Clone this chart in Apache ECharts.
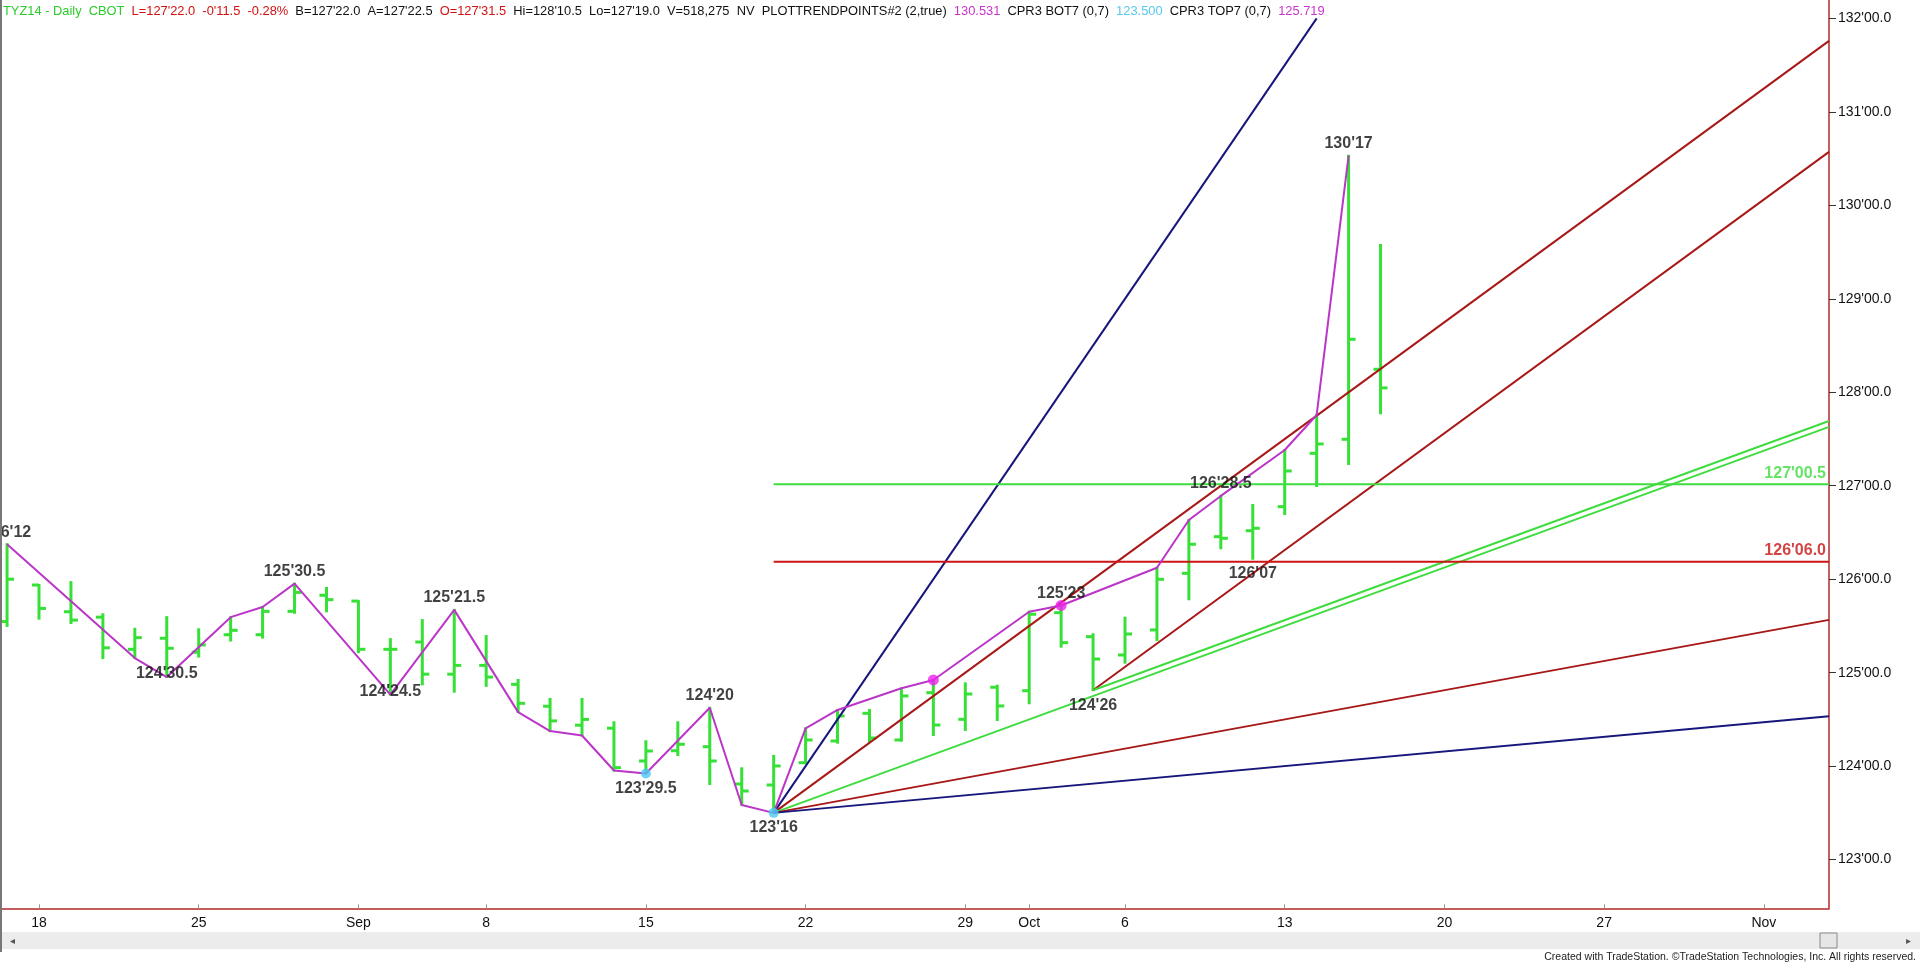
<!DOCTYPE html>
<html><head><meta charset="utf-8">
<script src="https://cdn.jsdelivr.net/npm/echarts@6/dist/echarts.min.js"></script>
<style>html,body{margin:0;padding:0;background:#fff;overflow:hidden}#c{width:1920px;height:964px}</style>
</head><body><div id="c"></div>
<script>
// ---------------- DATA ----------------
// trading-day index 0 = Fri 15 Aug 2014
const barOpen  = [125.547,125.938,125.652,125.594,125.25,125.368,125.219,125.406,125.406,125.656,125.828,125.766,125.25,125.328,124.984,125.078,124.875,124.641,124.438,124.406,124.055,124.165,124.208,123.809,123.798,124.037,124.269,124.565,124.28,124.786,124.501,124.844,124.807,125.642,125.385,125.189,125.457,126.063,126.455,126.519,126.776,127.347,127.497,128.246];
const barHigh  = [126.375,125.938,125.969,125.625,125.469,125.594,125.464,125.594,125.703,125.953,125.906,125.766,125.359,125.5625,125.672,125.391,124.922,124.719,124.719,124.469,124.266,124.469,124.625,123.977,124.109,124.405,124.601,124.601,124.833,124.922,124.886,124.861,125.652,125.719,125.411,125.588,126.123,126.634,126.891,126.794,127.382,127.757,130.531,129.576];
const barLow   = [125.5,125.578,125.531,125.156,125.156,124.953,125.172,125.344,125.375,125.641,125.656,125.219,124.766,124.875,124.797,124.859,124.578,124.375,124.328,123.953,123.922,124.119,123.809,123.584,123.5,124.031,124.251,124.262,124.273,124.333,124.387,124.494,124.673,125.278,124.8125,125.107,125.35,125.785,126.331,126.219,126.698,126.997,127.233,127.775];
const barClose = [126.0,125.6875,125.5625,125.266,125.375,125.261,125.297,125.453,125.656,125.859,125.781,125.25,125.25,124.984,125.078,124.953,124.672,124.484,124.5,123.984,124.162,124.234,124.055,123.734,124.002,124.28,124.537,124.301,124.751,124.44,124.772,124.644,125.625,125.321,125.146,125.414,125.999,126.374,126.438,126.545,127.158,127.447,128.567,128.047];

const xTickIdx    = [1,6,11,15,20,25,30,32,35,40,45,50,55];
const xTickLabels = ['18','25','Sep','8','15','22','29','Oct','6','13','20','27','Nov'];
const yTicks      = [123,124,125,126,127,128,129,130,131,132];

// swing (trend point) line
const zzIdx   = [0,4,5,7,8,9,12,14,16,17,18,19,20,22,23,24,25,26,28,29,32,33,36,37,38,40,41,42];
const zzPrice = [126.375,125.156,124.953,125.594,125.703,125.953,124.766,125.672,124.578,124.375,124.328,123.953,123.922,124.625,123.584,123.5,124.405,124.601,124.833,124.922,125.652,125.719,126.123,126.634,126.891,127.382,127.757,130.531];

const magentaDotIdx = [29,33];
const magentaDotPrice = [124.922,125.719];
const cyanDotIdx = [20,24];
const cyanDotPrice = [123.922,123.5];

// pivot annotations
const annotIdx   = [0,5,9,12,14,20,22,24,33,34,38,39,42];
const annotPrice = [126.375,124.953,125.953,124.766,125.672,123.922,124.625,123.5,125.719,124.8125,126.891,126.219,130.531];
const annotText  = ["126'12","124'30.5","125'30.5","124'24.5","125'21.5","123'29.5","124'20","123'16","125'23","124'26","126'28.5","126'07","130'17"];
const annotSide  = ['above','below','above','below','above','below','above','below','above','below','above','below','above'];

// fan / trend lines
const fanFrom = [[24,123.5],[24,123.5],[24,123.5],[24,123.5],[24,123.5],[34,124.8125],[34,124.8125]];
const fanTo   = [[41,132.0],[57.04,131.76],[57.04,127.63],[57.04,125.565],[57.04,124.5325],[57.04,130.5725],[57.04,127.6925]];
const fanKind = ['blue','red','green','red','blue','red','green'];

// horizontal levels
const hLevel = [127.015625, 126.1875];
const hText  = ["127'00.5", "126'06.0"];
const hKind  = ['green','red'];
const hStartIdx = 24;

const lastPrice = 128.046875;
const lastPriceText = "128'01.5";

const headerText  = ["TYZ14 - Daily  CBOT","L=127'22.0","-0'11.5","-0.28%","B=127'22.0","A=127'22.5","O=127'31.5","Hi=128'10.5","Lo=127'19.0","V=518,275","NV","PLOTTRENDPOINTS#2 (2,true)","130.531","CPR3 BOT7 (0,7)","123.500","CPR3 TOP7 (0,7)","125.719"];
const headerColor = ['g','r','r','r','k','k','r','k','k','k','k','k','m','k','c','k','m'];

// ---------------- STYLE ----------------
const X_MIN = -0.221, X_MAX = 57.04, Y_MIN = 122.479, Y_MAX = 132.197;
const C = {blue:'#16167c', red:'#a81818', green:'#3fdc3f', bar:'#36e036', zz:'#bb35c8', g:'#2ccc2c', r:'#d41010', k:'#111', m:'#cc33cc', c:'#55c8ee'};
const FONT = "'Liberation Sans', Arial, sans-serif";
const HEADER_WIDTH = 1322;

const chart = echarts.init(document.getElementById('c'), null, {renderer:'canvas'});

const ohlcData = barOpen.map((o,i)=>[i,o,barHigh[i],barLow[i],barClose[i]]);

function renderOHLC(params, api){
  const x = api.value(0);
  const o = api.coord([x, api.value(1)]);
  const h = api.coord([x, api.value(2)]);
  const l = api.coord([x, api.value(3)]);
  const c = api.coord([x, api.value(4)]);
  const st = {stroke:C.bar, lineWidth:3, lineCap:'butt'};
  return {type:'group', children:[
    {type:'line', shape:{x1:h[0],y1:h[1]-1,x2:l[0],y2:l[1]+1}, style:st},
    {type:'line', shape:{x1:o[0]-7,y1:o[1],x2:o[0],y2:o[1]}, style:st},
    {type:'line', shape:{x1:c[0],y1:c[1],x2:c[0]+7,y2:c[1]}, style:st}
  ]};
}

const series = [];
series.push({type:'custom', renderItem:renderOHLC, data:ohlcData, encode:{x:0,y:[1,2,3,4]}, z:2, silent:true});

fanFrom.forEach((f,i)=>{
  series.push({type:'line', data:[f, fanTo[i]], showSymbol:false, symbol:'none', z:3, silent:true,
    lineStyle:{color:C[fanKind[i]], width:2}});
});

hLevel.forEach((v,i)=>{
  series.push({type:'line', data:[[hStartIdx,v],[X_MAX,v]], symbol:'none', z:3, silent:true,
    lineStyle:{color: hKind[i]==='green' ? C.green : '#cc1414', width:2}});
  series.push({type:'scatter', data:[[X_MAX,v]], symbolSize:0, z:6, silent:true,
    label:{show:true, position:'left', distance:0, offset:[-3,-11], formatter:hText[i],
      color: hKind[i]==='green' ? '#3ddc3d' : '#c81414', fontWeight:'bold', fontSize:16, fontFamily:FONT}});
});

series.push({type:'line', data:zzIdx.map((x,i)=>[x,zzPrice[i]]), symbol:'none', z:4, silent:true,
  lineStyle:{color:C.zz, width:2},
  markLine:{silent:true, symbol:'none', animation:false, data:[{yAxis:lastPrice}],
    lineStyle:{opacity:0},
    label:{show:true, position:'end', distance:0, formatter:lastPriceText, backgroundColor:'#22ec22', color:'#fff',
      fontSize:14, fontFamily:FONT, padding:[2,29,1,7]}}
});

series.push({type:'scatter', data:magentaDotIdx.map((x,i)=>[x,magentaDotPrice[i]]), symbolSize:11, z:5, silent:true,
  itemStyle:{color:'#ee22ee'}});
series.push({type:'scatter', data:cyanDotIdx.map((x,i)=>[x,cyanDotPrice[i]]), symbolSize:10, z:5, silent:true,
  itemStyle:{color:'#4cc8f4'}});

const belowNudge = {5:-18, 12:-18};
series.push({type:'scatter', symbolSize:0, z:6, silent:true,
  data: annotIdx.map((x,i)=>({value:[x,annotPrice[i]],
    label:{position: annotSide[i]==='above' ? 'top' : 'bottom', distance: annotSide[i]==='above' ? 4 : 7,
      offset:[0, belowNudge[x] || 0], formatter: annotText[i]}})),
  label:{show:true, color:'#111', fontWeight:'bold', fontSize:16, fontFamily:FONT}
});

// header as one flowing rich text, font size fitted to the reference's header width
const SEP = '  ';
const plainHeader = headerText.join(SEP);
const mctx = document.createElement('canvas').getContext('2d');
mctx.font = "12px " + FONT;
const hdrSize = Math.max(11, Math.min(13.5, 12 * HEADER_WIDTH / mctx.measureText(plainHeader).width));
const richHeader = headerText.map((t,i)=>'{'+headerColor[i]+'|'+t+'}').join(SEP);
const rich = {};
['g','r','k','m','c'].forEach(k=>{ rich[k] = {fill:C[k], fontSize:hdrSize, fontFamily:FONT}; });

const graphics = [
  {type:'line', shape:{x1:1,y1:0,x2:1,y2:952}, style:{stroke:'#777', lineWidth:2}, z:100},
  {type:'rect', shape:{x:2,y:932,width:1918,height:17}, style:{fill:'#ececec'}, z:100},
  {type:'rect', shape:{x:1820,y:933,width:17,height:15}, style:{fill:'#e6e6e6', stroke:'#8a8a8a', lineWidth:1}, z:101},
  {type:'text', x:10, y:941, style:{text:'◂', fill:'#555', fontSize:10, verticalAlign:'middle'}, z:101},
  {type:'text', x:1906, y:941, style:{text:'▸', fill:'#555', fontSize:10, verticalAlign:'middle'}, z:101},
  {type:'text', right:4, y:952, style:{text:'Created with TradeStation. ©TradeStation Technologies, Inc. All rights reserved.', fill:'#222', fontSize:10.5, fontFamily:FONT}, z:101},
  {type:'text', x:3, y:11, z:100, style:{text:richHeader, rich:rich, fill:'#111', fontSize:hdrSize, fontFamily:FONT, verticalAlign:'middle'}}
];

chart.setOption({
  animation:false,
  textStyle:{fontFamily:FONT},
  grid:{left:0, right:91, top:0, bottom:55.7, containLabel:false, outerBoundsMode:'none'},
  xAxis:{type:'value', min:X_MIN, max:X_MAX, position:'bottom',
    axisLine:{show:true, onZero:false, lineStyle:{color:'#b02a2a', width:1.5}},
    axisTick:{show:true, inside:true, length:4, customValues:xTickIdx, lineStyle:{color:'#999'}},
    axisLabel:{show:true, customValues:xTickIdx, margin:8, color:'#111', fontSize:14, fontFamily:FONT,
      formatter:(v)=>{const k=xTickIdx.indexOf(Math.round(v)); return k>=0?xTickLabels[k]:'';}},
    splitLine:{show:false}},
  yAxis:{type:'value', min:Y_MIN, max:Y_MAX, position:'right',
    axisLine:{show:true, onZero:false, lineStyle:{color:'#b02a2a', width:1.5}},
    axisTick:{show:true, inside:false, length:7, customValues:yTicks, lineStyle:{color:'#333'}},
    axisLabel:{show:true, customValues:yTicks, margin:9, color:'#111', fontSize:14, fontFamily:FONT,
      formatter:(v)=>Math.round(v)+"'00.0"},
    splitLine:{show:false}},
  graphic:graphics,
  series:series
});
</script></body></html>
